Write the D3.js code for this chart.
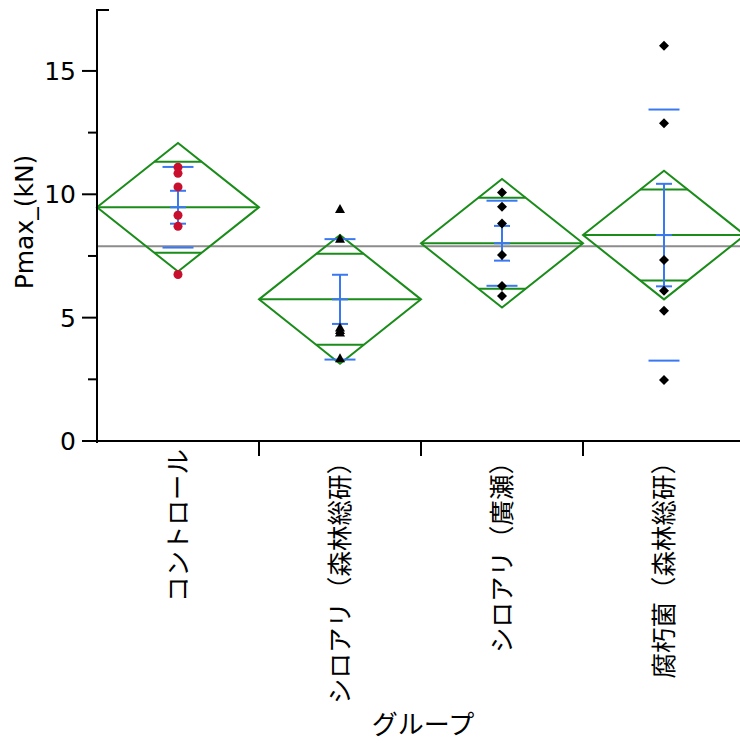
<!DOCTYPE html>
<html><head><meta charset="utf-8">
<script src="https://cdn.jsdelivr.net/npm/d3@7"></script>
<style>body{margin:0;background:#fff}svg{display:block}</style>
</head><body>
<div id="chart"></div>
<script>
const categories = ["コントロール","シロアリ（森林総研）","シロアリ（廣瀬）","腐朽菌（森林総研）"];
const control = [11.1, 10.85, 10.3, 9.15, 8.7, 6.75];
const termiteFFPRI = [9.4, 8.2, 4.6, 4.5, 4.4, 3.35];
const termiteHirose = [10.07, 9.5, 8.82, 7.54, 6.28, 5.88];
const fungusFFPRI = [16.02, 12.88, 7.34, 6.09, 5.28, 2.47];
const seriesValues = [control, termiteFFPRI, termiteHirose, fungusFFPRI];
const markerShapes = ["circle","triangle","diamond","diamond"];
const yTicks = [0,5,10,15];
const yMinorTicks = [2.5,7.5,12.5];
const tCrit = 2.086; // t(0.975, df=20)

(function(){
const W = 740, H = 744;
const svg = d3.select("#chart").append("svg").attr("width", W).attr("height", H);
const pL = 97, pB = 441, pT = 10;
const x = d3.scaleBand().domain(categories).range([pL, pL + 4*162]).padding(0);
const y = d3.scaleLinear().domain([0, 17.47]).range([pB, pT]);

const green = "#1a8c1a", blue = "#3a78f2", red = "#c8102e", grey = "#8c8c8c";

const stats = seriesValues.map(v => {
  const n = v.length, m = d3.mean(v), sd = d3.deviation(v);
  return {n, m, sd, se: sd/Math.sqrt(n)};
});
const all = seriesValues.flat();
const grand = d3.mean(all);
const dfErr = all.length - seriesValues.length;
const pooledVar = d3.sum(seriesValues, v => d3.sum(v, d => (d - d3.mean(v))**2)) / dfErr;

svg.append("line").attr("x1", pL).attr("x2", W).attr("y1", y(grand)).attr("y2", y(grand))
  .attr("stroke", grey).attr("stroke-width", 2);

const g = svg.append("g");
categories.forEach((c, i) => {
  const s = stats[i];
  const x0 = x(c), x1 = x(c) + x.bandwidth(), cx = x(c) + x.bandwidth()/2;
  const hw = x.bandwidth()/2;
  const ci = tCrit * Math.sqrt(pooledVar / s.n);
  g.append("path").attr("d", `M${x0},${y(s.m)}L${cx},${y(s.m+ci)}L${x1},${y(s.m)}L${cx},${y(s.m-ci)}Z`)
    .attr("fill", "none").attr("stroke", green).attr("stroke-width", 2);
  g.append("line").attr("x1", x0).attr("x2", x1).attr("y1", y(s.m)).attr("y2", y(s.m))
    .attr("stroke", green).attr("stroke-width", 2);
  const ov = ci / Math.SQRT2;
  const ow = hw * (1 - 1/Math.SQRT2);
  [s.m + ov, s.m - ov].forEach(v => {
    g.append("line").attr("x1", cx - ow).attr("x2", cx + ow).attr("y1", y(v)).attr("y2", y(v))
      .attr("stroke", green).attr("stroke-width", 2);
  });
  [s.m + s.sd, s.m - s.sd].forEach(v => {
    g.append("line").attr("x1", cx - 15.5).attr("x2", cx + 15.5).attr("y1", y(v)).attr("y2", y(v))
      .attr("stroke", blue).attr("stroke-width", 2);
  });
  g.append("line").attr("x1", cx).attr("x2", cx).attr("y1", y(s.m + s.se)).attr("y2", y(s.m - s.se))
    .attr("stroke", blue).attr("stroke-width", 2);
  [s.m + s.se, s.m, s.m - s.se].forEach(v => {
    g.append("line").attr("x1", cx - 8).attr("x2", cx + 8).attr("y1", y(v)).attr("y2", y(v))
      .attr("stroke", blue).attr("stroke-width", 2);
  });
  const shape = markerShapes[i];
  seriesValues[i].forEach(v => {
    if (shape === "circle") {
      g.append("circle").attr("cx", cx).attr("cy", y(v)).attr("r", 4.5).attr("fill", red);
    } else if (shape === "triangle") {
      g.append("path").attr("transform", `translate(${cx},${y(v)})`)
        .attr("d", "M0,-5L5,4L-5,4Z").attr("fill", "#000");
    } else {
      g.append("path").attr("transform", `translate(${cx},${y(v)})`)
        .attr("d", "M0,-5L5,0L0,5L-5,0Z").attr("fill", "#000");
    }
  });
});

const yAxis = svg.append("g");
yAxis.append("line").attr("x1", pL).attr("x2", pL).attr("y1", pT).attr("y2", pB + 2)
  .attr("stroke", "#000").attr("stroke-width", 2);
yAxis.append("line").attr("x1", pL - 1).attr("x2", pL + 12).attr("y1", pT).attr("y2", pT)
  .attr("stroke", "#000").attr("stroke-width", 2);
yTicks.forEach(t => {
  yAxis.append("line").attr("x1", pL - 15).attr("x2", pL).attr("y1", y(t)).attr("y2", y(t))
    .attr("stroke", "#000").attr("stroke-width", 2);
  yAxis.append("text").attr("x", pL - 21).attr("y", y(t)).attr("dy", "0.36em")
    .attr("text-anchor", "end").attr("font-family", "DejaVu Sans").attr("font-size", 25)
    .attr("fill", "#000").text(t);
});
yMinorTicks.forEach(t => {
  yAxis.append("line").attr("x1", pL - 9).attr("x2", pL).attr("y1", y(t)).attr("y2", y(t))
    .attr("stroke", "#000").attr("stroke-width", 2);
});
svg.append("text").attr("transform", `translate(33,222) rotate(-90)`)
  .attr("text-anchor", "middle").attr("font-family", "DejaVu Sans").attr("font-size", 25)
  .attr("fill", "#000").text("Pmax_(kN)");

const xAxis = svg.append("g");
xAxis.append("line").attr("x1", pL - 1).attr("x2", W).attr("y1", pB).attr("y2", pB)
  .attr("stroke", "#000").attr("stroke-width", 2);
categories.slice(1).forEach(c => {
  xAxis.append("line").attr("x1", x(c)).attr("x2", x(c)).attr("y1", pB).attr("y2", pB + 15)
    .attr("stroke", "#000").attr("stroke-width", 2);
});
categories.forEach(c => {
  const cx = x(c) + x.bandwidth()/2;
  xAxis.append("text").attr("transform", `translate(${cx + 9},449) rotate(-90)`)
    .attr("text-anchor", "end").attr("font-family", "Noto Sans CJK JP").attr("font-size", 25.5)
    .attr("fill", "#000").text(c);
});
svg.append("text").attr("x", 423).attr("y", 734).attr("text-anchor", "middle")
  .attr("font-family", "Noto Sans CJK JP").attr("font-size", 26).attr("fill", "#000").text("グループ");
})();
</script>
</body></html>
